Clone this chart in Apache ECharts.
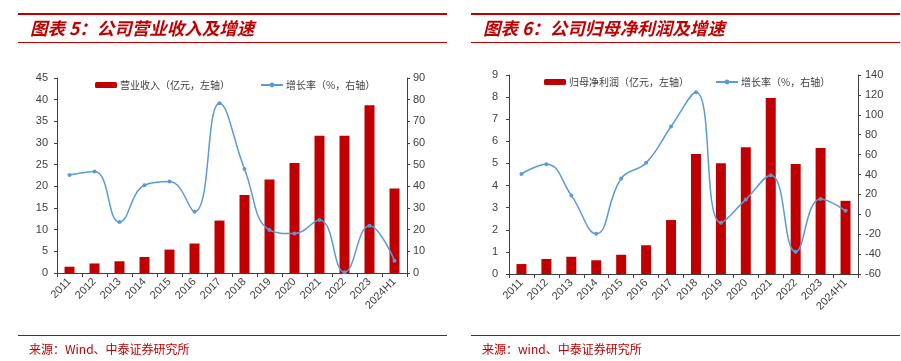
<!DOCTYPE html>
<html>
<head>
<meta charset="utf-8">
<script src="https://cdn.jsdelivr.net/npm/echarts@6/dist/echarts.min.js"></script>
<style>
html,body{margin:0;padding:0;background:#fff;}
#c{width:901px;height:361px;}
</style>
</head>
<body>
<div id="c"></div>
<script>
var categories = ['2011','2012','2013','2014','2015','2016','2017','2018','2019','2020','2021','2022','2023','2024H1'];
var revenue = [1.45, 2.2, 2.7, 3.7, 5.4, 6.8, 12.1, 18.0, 21.6, 25.4, 31.7, 31.7, 38.7, 19.5];
var revenueGrowth = [45.2, 46.9, 23.5, 40.5, 42.2, 28.3, 78.3, 48.0, 19.8, 18.2, 24.5, 0.3, 21.8, 5.7];
var profit = [0.45, 0.68, 0.78, 0.62, 0.87, 1.30, 2.44, 5.43, 5.01, 5.73, 7.96, 4.98, 5.70, 3.31];
var profitGrowth = [40.6, 50.4, 19.0, -19.6, 36.0, 51.7, 88.2, 122.6, -8.5, 15.0, 39.3, -37.6, 15.3, 3.5];

var titles = ['图表 5：公司营业收入及增速', '图表 6：公司归母净利润及增速'];
var sources = ['来源：Wind、中泰证券研究所', '来源：wind、中泰证券研究所'];
var barNames = ['营业收入（亿元，左轴）', '归母净利润（亿元，左轴）'];
var lineName = '增长率（%，右轴）';

var RED = '#C00000';
var BLUE = '#5B9BD5';
var AX = '#404040';
var FONT = 'Liberation Sans, Arial, sans-serif';
var CJK = 'Noto Sans CJK SC, sans-serif';

function yAxis(gi, min, max, interval, pos, margin) {
  return {
    type: 'value', gridIndex: gi, min: min, max: max, interval: interval, position: pos,
    splitLine: {show: false},
    axisLine: {show: true, lineStyle: {color: AX, width: 1}},
    axisTick: {show: true, length: 3, lineStyle: {color: AX}},
    axisLabel: {color: AX, fontSize: 11, fontFamily: FONT, margin: margin}
  };
}
function xAxis(gi) {
  return {
    type: 'category', gridIndex: gi, data: categories,
    axisLine: {show: true, lineStyle: {color: AX, width: 1}},
    axisTick: {show: true, length: 4, alignWithLabel: false, lineStyle: {color: AX}},
    axisLabel: {color: AX, fontSize: 11, fontFamily: FONT, rotate: 45, margin: 7, interval: 0}
  };
}

var chart = echarts.init(document.getElementById('c'), null, {renderer: 'canvas'});
var graphic = [];
[[18, 447, 30], [471, 900, 483]].forEach(function (g, i) {
  graphic.push({type: 'rect', shape: {x: g[0], y: 13, width: g[1] - g[0], height: 2}, style: {fill: RED}, silent: true});
  graphic.push({type: 'rect', shape: {x: g[0], y: 42, width: g[1] - g[0], height: 1}, style: {fill: RED}, silent: true});
  graphic.push({type: 'rect', shape: {x: g[0], y: 335, width: g[1] - g[0], height: 1}, style: {fill: RED}, silent: true});
  graphic.push({type: 'text', left: g[2], top: 20, style: {text: titles[i], fill: RED, font: 'italic bold 17.5px ' + CJK}, silent: true});
  graphic.push({type: 'text', left: g[2] - 1, top: 343, style: {text: sources[i], fill: RED, font: '12px ' + CJK}, silent: true});
});

var option = {
  animation: false,
  backgroundColor: '#fff',
  graphic: graphic,
  legend: [
    {left: 90, top: 75, itemWidth: 22, itemHeight: 6, itemGap: 30, data: [barNames[0], {name: lineName}],
     textStyle: {fontSize: 10, color: AX, fontFamily: CJK, padding: [0, 0, 0, -2]}, selectedMode: false},
    {left: 539, top: 72, itemWidth: 22, itemHeight: 6, itemGap: 26, data: [barNames[1], {name: lineName}],
     textStyle: {fontSize: 10, color: AX, fontFamily: CJK, padding: [0, 0, 0, -2]}, selectedMode: false}
  ],
  grid: [
    {left: 57, right: 494, top: 78, bottom: 88},
    {left: 509, right: 43, top: 75, bottom: 87}
  ],
  xAxis: [xAxis(0), xAxis(1)],
  yAxis: [
    yAxis(0, 0, 45, 5, 'left', 9),
    yAxis(0, 0, 90, 10, 'right', 6),
    yAxis(1, 0, 9, 1, 'left', 11),
    yAxis(1, -60, 140, 20, 'right', 7)
  ],
  series: [
    {name: barNames[0], type: 'bar', xAxisIndex: 0, yAxisIndex: 0, data: revenue, barWidth: 10,
     itemStyle: {color: RED}},
    {name: lineName, type: 'line', xAxisIndex: 0, yAxisIndex: 1, data: revenueGrowth, smooth: 0.45,
     symbol: 'circle', symbolSize: 4, lineStyle: {color: BLUE, width: 1.5}, itemStyle: {color: BLUE}, z: 5},
    {name: barNames[1], type: 'bar', xAxisIndex: 1, yAxisIndex: 2, data: profit, barWidth: 10,
     itemStyle: {color: RED}},
    {name: lineName, type: 'line', xAxisIndex: 1, yAxisIndex: 3, data: profitGrowth, smooth: 0.45,
     symbol: 'circle', symbolSize: 4, lineStyle: {color: BLUE, width: 1.5}, itemStyle: {color: BLUE}, z: 5}
  ]
};
chart.setOption(option);
</script>
</body>
</html>
